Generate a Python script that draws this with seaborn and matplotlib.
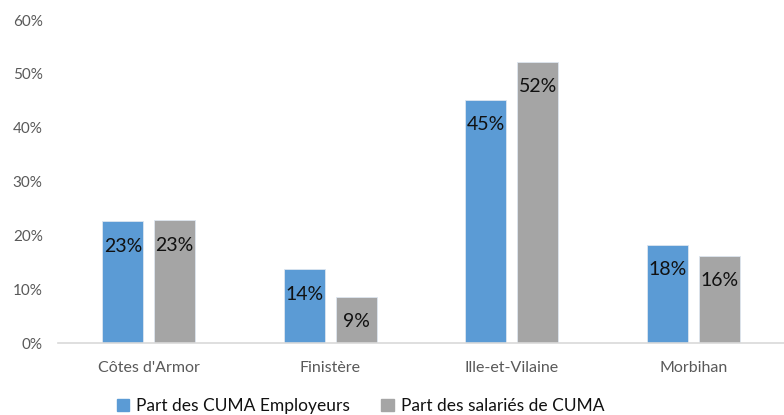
import pandas as pd
import seaborn as sns
import matplotlib.pyplot as plt

departements = ["Côtes d'Armor", "Finistère", "Ille-et-Vilaine", "Morbihan"]
series = ["Part des CUMA Employeurs", "Part des salariés de CUMA"]
cuma_employeurs = [0.226, 0.137, 0.452, 0.182]
salaries_cuma = [0.228, 0.086, 0.522, 0.162]
couleurs = ["#5b9bd5", "#a5a5a5"]

df = pd.DataFrame({
    "dep": departements * 2,
    "serie": [series[0]] * 4 + [series[1]] * 4,
    "val": cuma_employeurs + salaries_cuma,
})

sns.set_style("white")
plt.rcParams["font.family"] = ["Lato", "DejaVu Sans"]

fig = plt.figure(figsize=(7.84, 4.15), dpi=100)
ax = fig.add_axes([58 / 784, 72 / 415, 726 / 784, 323 / 415])

sns.barplot(data=df, x="dep", y="val", hue="serie", hue_order=series,
            palette=couleurs, width=0.57, gap=0.21, ax=ax, legend=False,
            saturation=1, edgecolor="#dde6f0", linewidth=0.6)

for cont, vals in zip(ax.containers, [cuma_employeurs, salaries_cuma]):
    ax.bar_label(cont, labels=[f"{v*100:.0f}%" for v in vals],
                 padding=-24, fontsize=14, color="#111111")

ax.set_ylim(0, 0.6)
ax.set_yticks([0, 0.1, 0.2, 0.3, 0.4, 0.5, 0.6])
ax.set_yticklabels([f"{int(t*100)}%" for t in ax.get_yticks()])
ax.set_xlim(-0.5, 3.5)
ax.set_xlabel("")
ax.set_ylabel("")
ax.tick_params(axis="both", colors="#595959", length=0)
ax.tick_params(axis="x", pad=13, labelsize=11.5)
ax.tick_params(axis="y", pad=11, labelsize=11)
for s in ["top", "right", "left"]:
    ax.spines[s].set_visible(False)
ax.spines["bottom"].set_color("#d9d9d9")
ax.spines["bottom"].set_linewidth(1.2)

handles = [plt.Rectangle((0, 0), 1, 1, color=c) for c in couleurs]
fig.legend(handles, series, loc="center", bbox_to_anchor=(0.46, 0.022),
           ncol=2, frameon=False, fontsize=12.5, handlelength=0.7,
           handleheight=0.7, columnspacing=1.8, handletextpad=0.4,
           labelcolor="#111111")

fig.savefig("out.png", dpi=100)
